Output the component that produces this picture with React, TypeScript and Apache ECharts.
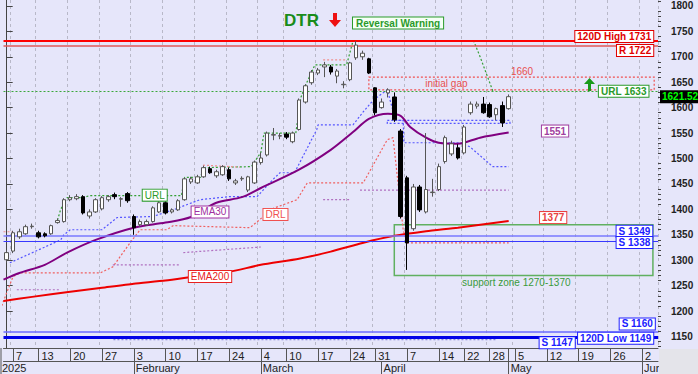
import React, { useEffect, useRef } from 'react';
import * as echarts from 'echarts';

// ---- categories: trading days grouped by week (MM-DD) ----
const tradingWeeks: string[][] = [
  ['01-03'],
  ['01-07', '01-08', '01-09', '01-10'],
  ['01-13', '01-14', '01-15', '01-16', '01-17'],
  ['01-20', '01-21', '01-22', '01-23', '01-24'],
  ['01-27', '01-28', '01-29', '01-30', '01-31'],
  ['02-03', '02-04', '02-05', '02-06', '02-07'],
  ['02-10', '02-11', '02-12', '02-13', '02-14'],
  ['02-17', '02-18', '02-19', '02-20', '02-21'],
  ['02-24', '02-25', '02-26', '02-27', '02-28'],
  ['03-04', '03-05', '03-06', '03-07'],
  ['03-10', '03-11', '03-12', '03-13', '03-14'],
  ['03-17', '03-18', '03-19', '03-20', '03-21'],
  ['03-24', '03-25', '03-26', '03-27'],
  ['03-31', '04-01', '04-02', '04-03', '04-04'],
  ['04-07', '04-08', '04-09', '04-10', '04-11'],
  ['04-14', '04-15', '04-16', '04-17'],
  ['04-22', '04-23', '04-24', '04-25'],
  ['04-28', '04-29', '04-30', '05-01'],
  ['05-05', '05-06', '05-07', '05-08', '05-09'],
  ['05-12', '05-13', '05-14', '05-15', '05-16'],
  ['05-19', '05-20', '05-21', '05-22', '05-23'],
  ['05-26', '05-27', '05-28', '05-29', '05-30'],
  ['06-02', '06-03', '06-04'],
];
const monthNames: Record<string, string> = { '01': '2025', '02': 'February', '03': 'March', '04': 'April', '05': 'May', '06': 'Jun' };
const yTicks = [1150, 1200, 1250, 1300, 1350, 1400, 1450, 1500, 1550, 1600, 1650, 1700, 1750, 1800];

// ---- OHLC (index 0 = Jan 3) ----
const opens = [1301, 1318, 1346, 1352, 1366, 1354, 1352, 1352, 1374, 1376, 1419, 1421, 1425, 1387, 1395, 1401, 1419, 1429, 1420, 1431,
  1386, 1370, 1370, 1376, 1395, 1413, 1395, 1399, 1419, 1454, 1452, 1464, 1480, 1466, 1468, 1478, 1452, 1460, 1438, 1452,
  1492, 1507, 1546, 1544, 1548, 1533, 1557, 1611, 1649, 1668, 1680, 1680, 1662, 1645, 1655, 1698, 1700, 1696, 1639, 1600,
  1629, 1621, 1554, 1462, 1362, 1444, 1395, 1433, 1439, 1494, 1509, 1521, 1511, 1590, 1603, 1607, 1606, 1586, 1604, 1598];
const closes = [1315, 1354, 1356, 1366, 1367, 1346, 1348, 1368, 1378, 1419, 1423, 1425, 1393, 1395, 1419, 1423, 1425, 1425, 1421, 1417,
  1364, 1376, 1376, 1403, 1413, 1393, 1399, 1417, 1460, 1460, 1464, 1482, 1472, 1474, 1484, 1460, 1456, 1461, 1464, 1493,
  1501, 1550, 1547, 1545, 1542, 1550, 1615, 1643, 1670, 1674, 1684, 1670, 1672, 1646, 1688, 1723, 1707, 1668, 1590, 1611,
  1635, 1576, 1386, 1334, 1444, 1399, 1439, 1434, 1484, 1541, 1529, 1501, 1562, 1607, 1607, 1590, 1582, 1598, 1570, 1621.52];
const lows = [1295, 1314, 1342, 1350, 1362, 1343, 1345, 1350, 1372, 1374, 1416, 1418, 1390, 1382, 1393, 1398, 1415, 1420, 1405, 1413,
  1350, 1366, 1368, 1374, 1393, 1390, 1392, 1397, 1417, 1450, 1450, 1462, 1470, 1462, 1466, 1456, 1448, 1456, 1434, 1450,
  1488, 1504, 1536, 1538, 1538, 1530, 1555, 1608, 1645, 1664, 1660, 1665, 1648, 1638, 1652, 1694, 1694, 1666, 1585, 1598,
  1620, 1572, 1382, 1281, 1358, 1395, 1392, 1425, 1436, 1490, 1505, 1498, 1508, 1586, 1598, 1588, 1580, 1575, 1562, 1596];
const highs = [1320, 1358, 1362, 1370, 1372, 1358, 1355, 1370, 1382, 1422, 1428, 1430, 1428, 1400, 1422, 1426, 1428, 1433, 1424, 1434,
  1390, 1380, 1380, 1406, 1416, 1416, 1402, 1420, 1462, 1464, 1468, 1486, 1484, 1478, 1487, 1482, 1460, 1465, 1466, 1496,
  1512, 1553, 1560, 1550, 1552, 1553, 1618, 1646, 1674, 1678, 1690, 1684, 1676, 1652, 1690, 1731, 1712, 1698, 1640, 1618,
  1638, 1630, 1558, 1466, 1450, 1448, 1550, 1460, 1490, 1545, 1535, 1528, 1566, 1612, 1612, 1621, 1610, 1600, 1612, 1626];

// ---- indicator lines: [day index, value] ----
const ema30: [number, number][] = [[-0.5, 1262], [2, 1275], [6, 1291], [9.5, 1315], [14, 1340], [20, 1364], [25, 1374], [29, 1385],
  [33, 1413], [37, 1424], [40, 1442], [46, 1478], [51, 1517], [54.5, 1552], [57, 1578], [60, 1588], [62, 1584], [63.5, 1562],
  [66, 1541], [68, 1531], [71, 1529], [74.5, 1541], [79, 1551]];
const ema200: [number, number][] = [[-0.5, 1220], [4, 1228], [10, 1238], [15, 1246], [20, 1254], [25, 1260], [29.5, 1268], [35, 1277],
  [40, 1291], [46, 1303], [51, 1317], [56, 1334], [61, 1348], [66, 1357], [71, 1364], [79, 1377]];
const urlLine: [number, number][] = [[8, 1379], [8.5, 1400], [9.5, 1423], [12, 1423], [13, 1427], [27.5, 1427], [28, 1463],
  [30.5, 1463], [31, 1482], [38.5, 1484], [40, 1512], [40.5, 1550], [45.5, 1550], [46.3, 1620], [47, 1643], [48, 1670],
  [48.5, 1684], [53.5, 1684], [54.5, 1731], [73.5, 1731], [74.5, 1700], [76.5, 1633]];
const lowerLine: [number, number][] = [[0.5, 1295], [8.5, 1340], [9, 1350], [10, 1360], [15, 1360], [17.4, 1384], [23, 1386],
  [26.2, 1399], [30.4, 1419], [35, 1425], [39.4, 1425], [42, 1460], [43, 1472], [45.3, 1472], [48.8, 1557], [49, 1566],
  [54.5, 1566], [56, 1590], [57.7, 1615], [59.9, 1635], [61.2, 1575], [62.4, 1575], [62.5, 1531], [71.3, 1531], [72.9, 1523],
  [76.5, 1484], [79, 1484]];
const drlLine: [number, number][] = [[-1, 1203], [0, 1236], [1, 1268], [2.1, 1275], [14.7, 1275], [16.7, 1287], [19.4, 1334],
  [21, 1360], [25.2, 1360], [26.2, 1368], [38.3, 1364], [40.3, 1385], [41.5, 1400], [45.7, 1419], [47.3, 1452], [56.1, 1452],
  [59.9, 1537], [60.8, 1541], [62.4, 1360], [63, 1334], [79, 1334]];
const highLine: [number, number][] = [[-0.5, 1356], [1, 1356], [null as any, null as any], [30.9, 1487], [36.7, 1483],
  [null as any, null as any], [49.8, 1694], [53.5, 1694]];
const midLine: [number, number][] = [[1.6, 1242], [8.4, 1242], [null as any, null as any], [16.7, 1291], [27.3, 1291],
  [null as any, null as any], [27.8, 1315], [40, 1326], [null as any, null as any], [49.8, 1419], [54, 1419],
  [null as any, null as any], [55.6, 1438], [79, 1438]];
const s1147Line: [number, number][] = [[16.8, 1144], [77.2, 1144]];
const lastDataIndex = 79;

const fullLines = [
  { v: 1731, color: '#ff0000', width: 2, type: 'solid' },
  { v: 1722, color: '#e05858', width: 1.5, type: 'solid' },
  { v: 1633, color: '#3aa83a', width: 1.2, type: [2, 2] },
  { v: 1349, color: '#7878ff', width: 1.5, type: 'solid' },
  { v: 1338, color: '#3838ff', width: 1, type: 'solid' },
  { v: 1160, color: '#6a6aff', width: 1.5, type: 'solid' },
  { v: 1149, color: '#0000e8', width: 3, type: 'solid' },
];

// boxed labels: [text, day index anchor, value, pixel dy, color, align, bold]
const boxLabels: [string, number, number, number, string, string, boolean][] = [
  ['120D High 1731', 101.75, 1731, -4.5, '#e00000', 'right', true],
  ['R 1722', 101.75, 1722, 5, '#e00000', 'right', true],
  ['URL 1633', 101.0, 1633, 0.5, '#2a9a2a', 'right', true],
  ['S 1349', 101.6, 1349, -4, '#2020ff', 'right', true],
  ['S 1338', 101.6, 1338, 1.5, '#2020ff', 'right', true],
  ['S 1160', 102.0, 1160, -7.5, '#2020ff', 'right', true],
  ['120D Low 1149', 101.75, 1149, 1.2, '#2020ff', 'right', true],
  ['S 1147', 89.4, 1147, 4.6, '#2020ff', 'right', true],
  ['1377', 86.0, 1377, -3.5, '#e84040', 'center', true],
  ['1551', 86.3, 1551, -1.5, '#a040a0', 'center', true],
  ['EMA30', 32.0, 1395, 0, '#a030a0', 'center', false],
  ['URL', 23.3, 1428, 0, '#2a9a2a', 'center', false],
  ['DRL', 42.3, 1390, 0, '#f05050', 'center', false],
  ['EMA200', 32.0, 1268, 0, '#e82020', 'center', false],
];

const dates = tradingWeeks.flat();
const weekStarts = new Set<number>();
{
  let k = 0;
  tradingWeeks.forEach((w, wi) => { if (wi > 0) weekStarts.add(k); k += w.length; });
}
const monthStarts = new Set<number>();
dates.forEach((d, i) => { if (i > 0 && d.slice(0, 2) !== dates[i - 1].slice(0, 2)) monthStarts.add(i); });

const FONT = '"Liberation Sans", Arial, sans-serif';

export default function App() {
  const ref = useRef<HTMLDivElement>(null);
  useEffect(() => {
    if (!ref.current) return;
    const chart = echarts.init(ref.current, null, { renderer: 'svg' });
    const candles = opens.map((o, i) => [o, closes[i], lows[i], highs[i]]);
    const minorTicks: number[] = [];
    for (let v = 1130; v <= 1810; v += 10) if (v % 50 !== 0) minorTicks.push(v);
    const yMin = 1127.5, yMax = 1811.6;
    const dotted = (name: string, data: any[], color: string, width = 1.2) => ({
      type: 'line', name, xAxisIndex: 2, yAxisIndex: 0, data, showSymbol: false, symbol: 'none',
      lineStyle: { color, width, type: [2, 2] }, z: 3, connectNulls: false, silent: true,
    });
    chart.setOption({
      animation: false,
      backgroundColor: '#e6e6fa',
      textStyle: { fontFamily: FONT },
      grid: { left: 3.5, right: 40, top: 0, bottom: 26 },
      xAxis: [
        {
          type: 'category', data: dates, boundaryGap: true, position: 'bottom',
          axisLine: { show: true, lineStyle: { color: '#555', width: 1 } },
          axisTick: { show: true, alignWithLabel: true, interval: (i: number) => weekStarts.has(i) || i === lastDataIndex, length: 13, lineStyle: { color: '#555' } },
          axisLabel: {
            interval: (i: number) => weekStarts.has(i), formatter: (v: string) => String(parseInt(v.slice(3), 10)),
            align: 'left', margin: 2, padding: [0, 0, 0, 3], fontSize: 11, color: '#222', fontFamily: FONT,
          },
          splitLine: { show: true, interval: (i: number) => weekStarts.has(i), lineStyle: { color: '#b8b8c8', type: [3, 3], width: 1 } },
        },
        {
          type: 'category', data: dates, boundaryGap: true, position: 'bottom', offset: 13,
          axisLine: { show: true, lineStyle: { color: '#555', width: 1 } },
          axisTick: { show: true, alignWithLabel: true, interval: (i: number) => monthStarts.has(i), length: 13, lineStyle: { color: '#555' } },
          axisLabel: {
            interval: (i: number) => monthStarts.has(i), formatter: (v: string) => monthNames[v.slice(0, 2)],
            align: 'left', margin: 1, padding: [0, 0, 0, 2], fontSize: 11, color: '#222', fontFamily: FONT,
          },
          splitLine: { show: false },
        },
        { type: 'value', min: -0.5, max: 102.5, show: false },
      ],
      yAxis: [
        {
          type: 'value', position: 'right', min: yMin, max: yMax, scale: true,
          axisLine: { show: true, lineStyle: { color: '#444' } },
          axisTick: { show: true, customValues: yTicks, length: 6, lineStyle: { color: '#444' } },
          axisLabel: { customValues: yTicks, formatter: (v: number) => String(v), fontSize: 10, fontWeight: 'bold', color: '#222', margin: 13, fontFamily: FONT },
          splitLine: { show: false },
        },
        {
          type: 'value', position: 'right', min: yMin, max: yMax, scale: true,
          axisLine: { show: false },
          axisTick: { show: true, customValues: minorTicks, length: 3, lineStyle: { color: '#444' } },
          axisLabel: { show: false },
          splitLine: { show: false },
        },
      ],
      series: [
        {
          type: 'candlestick', xAxisIndex: 0, yAxisIndex: 0, data: candles, barWidth: 4, z: 5,
          itemStyle: { color: '#ffffff', color0: '#000000', borderColor: '#555555', borderColor0: '#000000', borderWidth: 1 },
          markLine: {
            silent: true, symbol: 'none', label: { show: false },
            data: fullLines.map(l => ({ yAxis: l.v, lineStyle: { color: l.color, width: l.width, type: l.type } })),
          },
        },
        {
          type: 'line', name: 'EMA200', xAxisIndex: 2, yAxisIndex: 0, data: ema200, showSymbol: false, symbol: 'none', smooth: 0.2,
          lineStyle: { color: '#ee0000', width: 2 }, z: 4,
        },
        {
          type: 'line', name: 'EMA30', xAxisIndex: 2, yAxisIndex: 0, data: ema30, showSymbol: false, symbol: 'none', smooth: 0.3,
          lineStyle: { color: '#800080', width: 2 }, z: 4,
        },
        dotted('URL', urlLine, '#33a033'),
        dotted('lower', lowerLine, '#5555ff'),
        dotted('DRL', drlLine, '#f06060'),
        dotted('high', highLine, '#f09090'),
        dotted('mid', midLine, '#b070c0'),
        {
          ...dotted('s1147', s1147Line, '#8888d8'),
          markArea: {
            silent: true,
            data: [
              [{ coord: [57, 1660], itemStyle: { color: 'rgba(0,0,0,0)', borderColor: '#f05050', borderWidth: 1.2, borderType: [2, 2] } }, { coord: [101.9, 1635] }],
              [{ coord: [61, 1370], itemStyle: { color: 'rgba(0,0,0,0)', borderColor: '#60b060', borderWidth: 1.5, borderType: 'solid' } }, { coord: [101.7, 1270] }],
              [{ coord: [59.9, 1575], itemStyle: { color: 'rgba(0,0,0,0)', borderColor: '#5555ff', borderWidth: 1.2, borderType: [2, 2] } }, { coord: [79.2, 1569] }],
            ],
          },
        },
      ],
    });

    const px = (i: number) => chart.convertToPixel({ xAxisIndex: 2 }, i) as number;
    const py = (v: number) => chart.convertToPixel({ yAxisIndex: 0 }, v) as number;
    const graphics: any[] = [];
    boxLabels.forEach(([text, i, v, dy, color, align, bold]) => {
      graphics.push({
        type: 'text', x: px(i), y: py(v) + dy, z: 100,
        style: {
          text, fill: color, font: `${bold ? 'bold ' : ''}10px ${FONT}`, backgroundColor: '#ffffff',
          borderColor: color, borderWidth: 1, padding: [1, 2, 0, 2], align, verticalAlign: 'middle',
        },
      });
    });
    const plain = (text: string, i: number, v: number, color: string, size = 10) => ({
      type: 'text', x: px(i), y: py(v), z: 100,
      style: { text, fill: color, font: `${size}px ${FONT}`, align: 'center', verticalAlign: 'middle' },
    });
    graphics.push(plain('1660', 81.1, 1672, '#e85050'));
    graphics.push(plain('initial gap', 69.2, 1648, '#e85050'));
    graphics.push(plain('support zone 1270-1370', 80.2, 1257, '#3a9a3a'));
    // last price tag
    graphics.push({
      type: 'text', x: 660, y: py(closes[closes.length - 1]), z: 100,
      style: {
        text: closes[closes.length - 1].toFixed(2), fill: '#00ff00', font: `bold 10px ${FONT}`, backgroundColor: '#000000',
        padding: [2, 2, 1, 2], align: 'left', verticalAlign: 'middle',
      },
    });
    // headline
    graphics.push({ type: 'text', x: 284, y: 20, z: 100, style: { text: 'DTR', fill: '#1a8c1a', font: `bold 17px ${FONT}`, verticalAlign: 'middle' } });
    graphics.push({
      type: 'polygon', z: 100, shape: { points: [[333, 13], [337, 13], [337, 20], [341, 20], [335, 27], [329, 20], [333, 20]] },
      style: { fill: '#ee1111' },
    });
    graphics.push({
      type: 'text', x: 353, y: 23, z: 100,
      style: {
        text: 'Reversal Warning', fill: '#2a9a2a', font: `bold 10px ${FONT}`, backgroundColor: '#f6fff6',
        borderColor: '#2a9a2a', borderWidth: 1, padding: [1, 3, 0, 3], align: 'left', verticalAlign: 'middle',
      },
    });
    // green up arrow
    graphics.push({
      type: 'polygon', z: 100, shape: { points: [[588, 91], [591, 91], [591, 84], [595, 84], [589.5, 78], [584, 84], [588, 84]] },
      style: { fill: '#1a9a1a' },
    });
    // year label and lower-right corner
    graphics.push({ type: 'text', x: 2, y: 367.5, z: 100, style: { text: '2025', fill: '#222', font: `11px ${FONT}`, verticalAlign: 'middle' } });
    graphics.push({ type: 'rect', z: 90, shape: { x: 659, y: 349, width: 39, height: 25 }, style: { fill: '#e4e4ea' } });
    graphics.push({ type: 'line', z: 91, shape: { x1: 1, y1: 348, x2: 1, y2: 374 }, style: { stroke: '#555', lineWidth: 1 } });
    chart.setOption({ graphic: graphics });

    return () => chart.dispose();
  }, []);
  return <div ref={ref} style={{ position: 'fixed', left: 0, top: 0, width: 698, height: 374 }} />;
}
